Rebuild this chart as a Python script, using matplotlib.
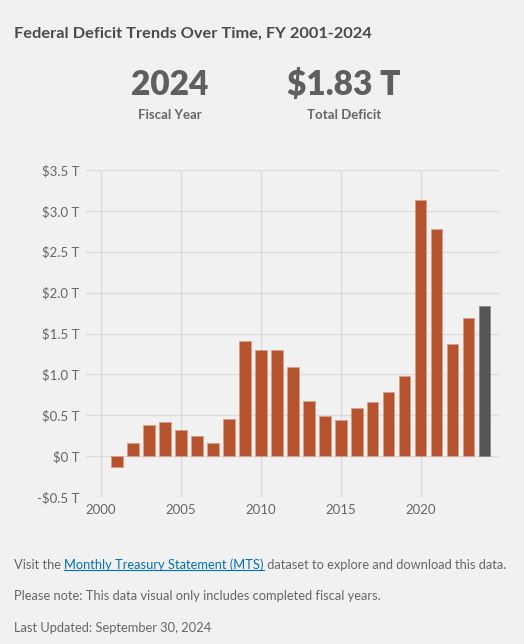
import numpy as np
import matplotlib.pyplot as plt
from matplotlib.lines import Line2D

plt.rcParams['font.family'] = ['Lato', 'DejaVu Sans']

years = list(range(2001, 2025))
deficit = [-0.128, 0.158, 0.378, 0.413, 0.318, 0.248, 0.161, 0.459, 1.413, 1.294,
           1.300, 1.087, 0.680, 0.485, 0.442, 0.585, 0.665, 0.779, 0.984, 3.132,
           2.775, 1.375, 1.695, 1.833]
ytick_vals = [-0.5, 0, 0.5, 1.0, 1.5, 2.0, 2.5, 3.0, 3.5]
ytick_labels = ['-$0.5 T', '$0 T', '$0.5 T', '$1.0 T', '$1.5 T', '$2.0 T',
                '$2.5 T', '$3.0 T', '$3.5 T']
xtick_vals = [2000, 2005, 2010, 2015, 2020]

bg = '#f1f1f1'
bar_color = '#b5532e'
last_color = '#555555'
text_color = '#666666'

W, H = 524, 644
fig = plt.figure(figsize=(W / 100, H / 100), dpi=100, facecolor=bg)

# axes placed in pixel coords
left, right, top, bottom = 86, 499, 170, 497
ax = fig.add_axes([left / W, 1 - bottom / H, (right - left) / W, (bottom - top) / H])
ax.set_facecolor(bg)

colors = [bar_color] * (len(years) - 1) + [last_color]
edges = ['#d9a08a'] * (len(years) - 1) + ['#8a8a8a']
ax.bar(years, deficit, width=0.72, color=colors, edgecolor=edges, linewidth=0.6, zorder=3)

ax.set_xlim(1999.06, 2024.9)
ax.set_ylim(-0.5, 3.5)
ax.set_yticks(ytick_vals)
ax.set_yticklabels(ytick_labels)
ax.set_xticks(xtick_vals)
ax.grid(True, color='#dcdcdc', linewidth=1, zorder=0)
for s in ax.spines.values():
    s.set_visible(False)
ax.tick_params(length=0, labelsize=9.5, labelcolor=text_color, pad=5)

# header
fig.text(14 / W, 1 - 34 / H, 'Federal Deficit Trends Over Time, FY 2001-2024',
         fontsize=11.8, fontweight='bold', color='#4a4a4a', va='center', ha='left')
fig.text(170 / W, 1 - 85 / H, '2024', fontsize=24, fontweight='heavy',
         color='#5f5f5f', ha='center', va='center')
fig.text(170 / W, 1 - 115 / H, 'Fiscal Year', fontsize=9.5, fontweight='bold',
         color='#666666', ha='center', va='center')
fig.text(344 / W, 1 - 85 / H, '$1.83 T', fontsize=24, fontweight='heavy',
         color='#5f5f5f', ha='center', va='center')
fig.text(344 / W, 1 - 115 / H, 'Total Deficit', fontsize=9.5, fontweight='bold',
         color='#666666', ha='center', va='center')

# footer with link
renderer = fig.canvas.get_renderer()
fs = 9.3
y1 = 1 - 565 / H
t1 = fig.text(14 / W, y1, 'Visit the ', fontsize=fs, color=text_color, va='center')
x = t1.get_window_extent(renderer).x1 / W
t2 = fig.text(x, y1, 'Monthly Treasury Statement (MTS)', fontsize=fs, color='#0071bc', va='center')
bb = t2.get_window_extent(renderer)
fig.add_artist(Line2D([bb.x0 / W, bb.x1 / W], [(bb.y0 + 1) / H] * 2,
                      color='#0071bc', linewidth=0.8))
fig.text(bb.x1 / W, y1, ' dataset to explore and download this data.', fontsize=fs,
         color=text_color, va='center')
fig.text(14 / W, 1 - 596 / H, 'Please note: This data visual only includes completed fiscal years.',
         fontsize=fs, color=text_color, va='center')
fig.text(14 / W, 1 - 628 / H, 'Last Updated: September 30, 2024',
         fontsize=fs, color=text_color, va='center')

fig.savefig('out.png', dpi=100, facecolor=bg)
